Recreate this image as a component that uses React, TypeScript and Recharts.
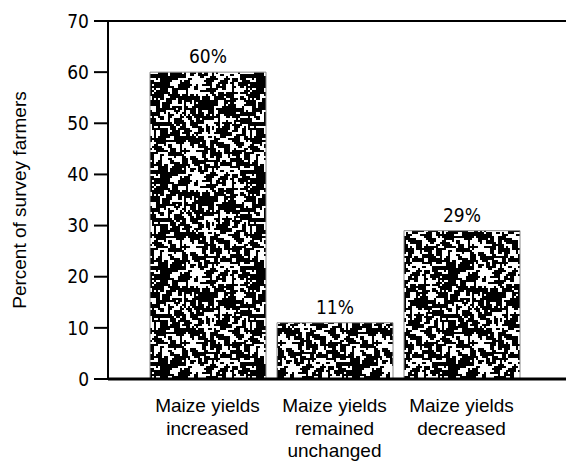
import { BarChart, Bar, XAxis, YAxis, LabelList, ReferenceLine } from 'recharts'

const categories = ['Maize yields\nincreased', 'Maize yields\nremained\nunchanged', 'Maize yields\ndecreased']
const percentFarmers = [60, 11, 29]
const yTicks = [0, 10, 20, 30, 40, 50, 60, 70]

const data = categories.map((name, i) => ({ name, value: percentFarmers[i] }))

const WORD_FONT = "'Liberation Sans', Arial, sans-serif"
const NUM_FONT = "'Liberation Sans Narrow', 'Arial Narrow', 'DejaVu Sans Condensed', sans-serif"

// black/white speckle tile for the bar fill (integer hash, purely decorative)
function hash(r: number, c: number) {
  let h = Math.imul(r + 1, 0x9e3779b1) ^ Math.imul(c + 7, 0x85ebca6b)
  h ^= h >>> 15
  h = Math.imul(h, 0x2c1b3c6d)
  h ^= h >>> 12
  h = Math.imul(h, 0x297a2d39)
  h ^= h >>> 15
  return (h >>> 0) / 4294967296
}

function speckle() {
  const n = 48
  const cells: number[][] = []
  for (let r = 0; r < n; r++) {
    const row: number[] = []
    for (let c = 0; c < n; c++) row.push(hash(r, c) < 0.5 ? 1 : 0)
    cells.push(row)
  }
  // light smoothing along a plus-shaped neighbourhood so the white bits join up into worms
  let d = ''
  for (let r = 0; r < n; r++) {
    for (let c = 0; c < n; c++) {
      const s =
        cells[r][c] * 2 +
        cells[(r + 1) % n][c] +
        cells[(r - 1 + n) % n][c] +
        cells[r][(c + 1) % n] +
        cells[r][(c - 1 + n) % n]
      if (s >= 3) d += `M${c * 2} ${r * 2}h2v2h-2z`
    }
  }
  return { d, size: n * 2 }
}
const tile = speckle()

function CategoryTick(props: any) {
  const { x, y, payload } = props
  const lines = String(payload.value).split('\n')
  return (
    <text x={x} y={y} textAnchor="middle" fontFamily={WORD_FONT} fontSize={19} fill="#000">
      {lines.map((l, i) => (
        <tspan key={i} x={x} dy={i === 0 ? 25 : 22.5}>
          {l}
        </tspan>
      ))}
    </text>
  )
}

export default function App() {
  return (
    <div style={{ position: 'absolute', left: 0, top: 0, background: '#fff' }}>
      <BarChart width={566} height={462} data={data} margin={{ top: 21, right: 0, bottom: 0, left: 0 }}>
        <defs>
          <pattern id="speckle" patternUnits="userSpaceOnUse" width={tile.size} height={tile.size}>
            <rect width={tile.size} height={tile.size} fill="#fff" />
            <path d={tile.d} fill="#000" />
          </pattern>
        </defs>
        <XAxis
          dataKey="name"
          height={83}
          padding={{ left: 36, right: 41 }}
          axisLine={{ stroke: '#000', strokeWidth: 3 }}
          tickLine={false}
          interval={0}
          tick={<CategoryTick />}
        />
        <YAxis
          width={108}
          domain={[0, 70]}
          ticks={yTicks}
          interval={0}
          tickSize={14}
          tickMargin={5}
          axisLine={{ stroke: '#000', strokeWidth: 2 }}
          tickLine={{ stroke: '#000', strokeWidth: 2 }}
          tick={{ fill: '#000', fontSize: 19, fontFamily: NUM_FONT }}
          label={{
            value: 'Percent of survey farmers',
            angle: -90,
            position: 'insideLeft',
            dx: 14,
            style: { fill: '#000', fontSize: 19, fontFamily: WORD_FONT, textAnchor: 'middle' },
          }}
        />
        <ReferenceLine y={70} stroke="#000" strokeWidth={2} />
        <Bar dataKey="value" barSize={116} fill="url(#speckle)" stroke="#888" strokeWidth={1} isAnimationActive={false}>
          <LabelList
            dataKey="value"
            position="top"
            offset={9}
            formatter={(v: any) => `${v}%`}
            style={{ fill: '#000', fontSize: 19, fontFamily: NUM_FONT }}
          />
        </Bar>
      </BarChart>
    </div>
  )
}
